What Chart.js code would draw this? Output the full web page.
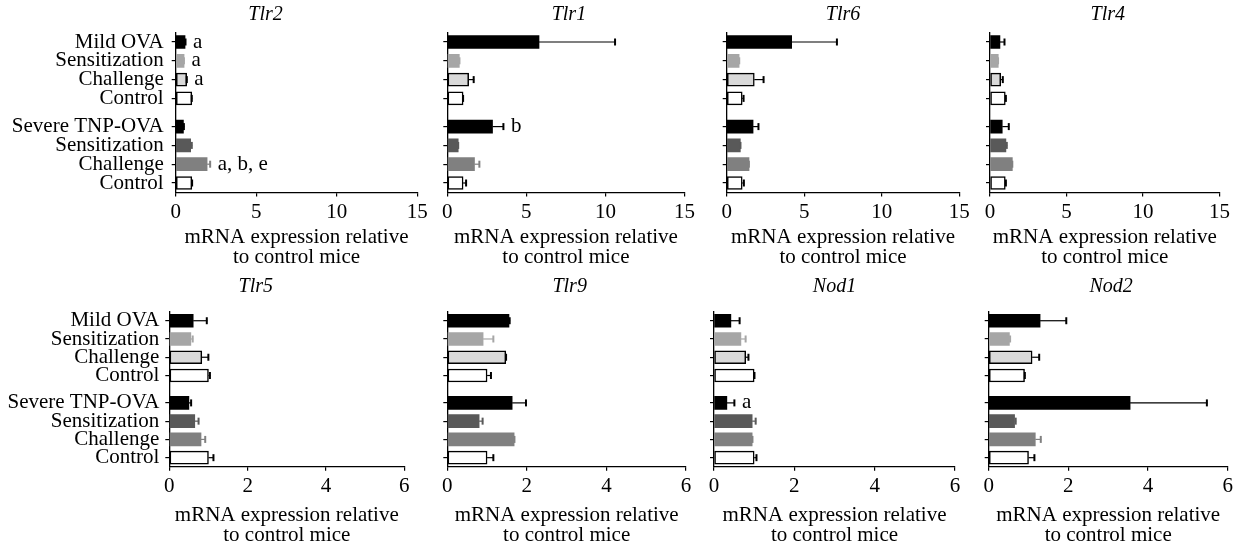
<!DOCTYPE html>
<html>
<head>
<meta charset="utf-8">
<script src="https://cdn.jsdelivr.net/npm/chart.js@4.4.1/dist/chart.umd.min.js"></script>
<style>
  html, body { margin: 0; padding: 0; background: #fff; width: 1242px; height: 550px; overflow: hidden; }
  canvas { position: absolute; }
</style>
</head>
<body>
<script>
// Groups shown on every panel (top to bottom)
const categories = ['Mild OVA', 'Sensitization', 'Challenge', 'Control',
                    'Severe TNP-OVA', 'Sensitization', 'Challenge', 'Control'];

// Mean relative mRNA expression and standard error, per gene
const tlr2    = [0.58, 0.52, 0.68, 1.00, 0.48, 0.93, 1.95, 1.00];
const tlr2Err = [0.06, 0.02, 0.04, 0.03, 0.06, 0.10, 0.22, 0.05];
const tlr1    = [5.80, 0.76, 1.35, 1.00, 2.86, 0.69, 1.72, 1.00];
const tlr1Err = [4.84, 0.04, 0.35, 0.03, 0.72, 0.03, 0.34, 0.22];
const tlr6    = [4.19, 0.80, 1.78, 1.00, 1.70, 0.88, 1.44, 1.00];
const tlr6Err = [2.95, 0.04, 0.63, 0.12, 0.38, 0.04, 0.02, 0.14];
const tlr4    = [0.65, 0.54, 0.70, 1.00, 0.80, 1.04, 1.46, 1.00];
const tlr4Err = [0.33, 0.02, 0.17, 0.07, 0.46, 0.09, 0.03, 0.07];
const tlr5    = [0.61, 0.55, 0.83, 1.00, 0.50, 0.65, 0.81, 1.00];
const tlr5Err = [0.36, 0.06, 0.18, 0.05, 0.07, 0.11, 0.12, 0.14];
const tlr9    = [1.55, 0.90, 1.47, 1.00, 1.63, 0.80, 1.68, 1.00];
const tlr9Err = [0.03, 0.27, 0.02, 0.11, 0.36, 0.10, 0.02, 0.17];
const nod1    = [0.42, 0.67, 0.79, 1.00, 0.32, 0.95, 0.95, 1.00];
const nod1Err = [0.23, 0.13, 0.08, 0.02, 0.20, 0.10, 0.02, 0.07];
const nod2    = [1.29, 0.52, 1.09, 0.90, 3.55, 0.65, 1.17, 1.00];
const nod2Err = [0.67, 0.03, 0.19, 0.02, 1.94, 0.04, 0.15, 0.16];

// Significance letters
const tlr2Notes = ['a', 'a', 'a', '', '', '', 'a, b, e', ''];
const tlr1Notes = ['', '', '', '', 'b', '', '', ''];
const noNotes   = ['', '', '', '', '', '', '', ''];
const nod1Notes = ['', '', '', '', 'a', '', '', ''];

// Value axis ticks
const ticksTop    = [0, 5, 10, 15];
const ticksBottom = [0, 2, 4, 6];

const axisTitle = ['mRNA expression relative', 'to control mice'];

// ---- styling ----
const FONT = '"Liberation Serif", "Times New Roman", serif';
const fills   = ['#000000', '#a6a6a6', '#d9d9d9', '#ffffff', '#000000', '#595959', '#808080', '#ffffff'];
const edges   = ['#000000', '#a6a6a6', '#000000', '#000000', '#000000', '#595959', '#808080', '#000000'];
const edgeW   = [0, 0, 1.5, 1.5, 0, 0, 0, 1.5];
const whiskerColors = ['#000000', '#a6a6a6', '#000000', '#000000', '#000000', '#595959', '#808080', '#000000'];

// second group sits half a row lower than the first
const rowPos = i => i + (i >= 4 ? 0.5 : 0);

const rows = [
  { top: 0,   plotTop: 32.6,  plotBottom: 192.4, titleY: 15,   tickPad: 3,   scaleH: 75,   labelPad: 8, ticks: ticksTop },
  { top: 270, plotTop: 311.6, plotBottom: 466.8, titleY: 286.7, tickPad: 3.5, scaleH: 78.3, labelPad: 6, ticks: ticksBottom }
];

const panels = [
  { name: 'Tlr2', mean: tlr2, err: tlr2Err, notes: tlr2Notes, row: 0, col: 0, left: 175.7, right: 417.3 },
  { name: 'Tlr1', mean: tlr1, err: tlr1Err, notes: tlr1Notes, row: 0, col: 1, left: 447.3, right: 685 },
  { name: 'Tlr6', mean: tlr6, err: tlr6Err, notes: noNotes,   row: 0, col: 2, left: 726.7, right: 959.3 },
  { name: 'Tlr4', mean: tlr4, err: tlr4Err, notes: noNotes,   row: 0, col: 3, left: 990,   right: 1220 },
  { name: 'Tlr5', mean: tlr5, err: tlr5Err, notes: noNotes,   row: 1, col: 0, left: 169.3, right: 404.3 },
  { name: 'Tlr9', mean: tlr9, err: tlr9Err, notes: noNotes,   row: 1, col: 1, left: 447.3, right: 686 },
  { name: 'Nod1', mean: nod1, err: nod1Err, notes: nod1Notes, row: 1, col: 2, left: 714,   right: 955 },
  { name: 'Nod2', mean: nod2, err: nod2Err, notes: noNotes,   row: 1, col: 3, left: 988.7, right: 1227.7 }
];
const titleShift = [-31, 3, 0, 3];

// italic gene name above each panel
const panelTitle = {
  id: 'panelTitle',
  afterDraw(chart, args, opts) {
    const { ctx, chartArea } = chart;
    ctx.save();
    ctx.font = 'italic 20px ' + FONT;
    ctx.fillStyle = '#000';
    ctx.textAlign = 'center';
    ctx.textBaseline = 'middle';
    ctx.fillText(opts.text, (chartArea.left + chartArea.right) / 2 + opts.dx, opts.y);
    ctx.restore();
  }
};

// one-sided error bars plus significance letters
const whiskers = {
  id: 'whiskers',
  afterDatasetsDraw(chart, args, opts) {
    const { ctx } = chart;
    const xs = chart.scales.x;
    const meta = chart.getDatasetMeta(0);
    ctx.save();
    meta.data.forEach((bar, i) => {
      const end = xs.getPixelForValue(opts.mean[i] + opts.err[i]);
      const y = bar.y;
      ctx.strokeStyle = whiskerColors[i];
      ctx.lineWidth = 1.2;
      ctx.beginPath();
      ctx.moveTo(bar.x, y);
      ctx.lineTo(end, y);
      ctx.stroke();
      ctx.lineWidth = 2;
      ctx.beginPath();
      ctx.moveTo(end - 0.5, y - 3.5);
      ctx.lineTo(end - 0.5, y + 3.5);
      ctx.stroke();
      const note = opts.notes[i];
      if (note) {
        ctx.fillStyle = '#000';
        ctx.font = '21px ' + FONT;
        ctx.textAlign = 'left';
        ctx.textBaseline = 'middle';
        ctx.fillText(note, end + 7, y);
      }
    });
    ctx.restore();
  }
};

panels.forEach(p => {
  const r = rows[p.row];
  const showLabels = p.col === 0;
  const canvasLeft = showLabels ? 0 : Math.floor(p.left - 12);
  const canvasWidth = Math.ceil(p.right + 13) - canvasLeft;
  const canvasHeight = Math.ceil(r.plotBottom + r.scaleH - r.top);
  const yWidth = p.left - canvasLeft;
  const padRight = canvasLeft + canvasWidth - p.right;
  const padTop = r.plotTop - r.top;
  const padBottom = canvasHeight - (r.plotBottom - r.top) - r.scaleH;

  const canvas = document.createElement('canvas');
  canvas.width = canvasWidth;
  canvas.height = canvasHeight;
  canvas.style.left = canvasLeft + 'px';
  canvas.style.top = r.top + 'px';
  canvas.style.width = canvasWidth + 'px';
  canvas.style.height = canvasHeight + 'px';
  document.body.appendChild(canvas);

  const tickList = r.ticks;

  new Chart(canvas, {
    type: 'bar',
    data: {
      datasets: [{
        data: p.mean.map((v, i) => ({ x: v, y: rowPos(i) })),
        backgroundColor: fills,
        borderColor: edges,
        borderWidth: edgeW,
        borderSkipped: false,
        barThickness: 13
      }]
    },
    options: {
      indexAxis: 'y',
      responsive: false,
      animation: false,
      devicePixelRatio: 1,
      layout: { padding: { left: 0, top: padTop, right: padRight, bottom: padBottom } },
      plugins: {
        legend: { display: false },
        tooltip: { enabled: false },
        title: { display: false },
        panelTitle: { text: p.name, dx: titleShift[p.col], y: r.titleY - r.top },
        whiskers: { mean: p.mean, err: p.err, notes: p.notes }
      },
      scales: {
        x: {
          type: 'linear',
          position: 'bottom',
          min: tickList[0],
          max: tickList[tickList.length - 1],
          afterBuildTicks: s => { s.ticks = tickList.map(v => ({ value: v })); },
          ticks: {
            autoSkip: false, maxRotation: 0, color: '#000', padding: r.tickPad,
            font: { family: FONT, size: 21 }
          },
          grid: { display: true, drawOnChartArea: false, drawTicks: true, tickLength: 4, color: '#000', lineWidth: 1.2 },
          border: { display: true, color: '#000', width: 1.3 },
          title: {
            display: true, text: axisTitle, color: '#000', padding: 0,
            font: { family: FONT, size: 21, lineHeight: '20px' }
          },
          afterFit: s => { s.height = r.scaleH; }
        },
        y: {
          type: 'linear',
          reverse: true,
          min: -0.5,
          max: 8,
          offset: false,
          afterBuildTicks: s => { s.ticks = categories.map((c, i) => ({ value: rowPos(i) })); },
          ticks: {
            display: showLabels, autoSkip: false, color: '#000', padding: r.labelPad,
            font: { family: FONT, size: 21 },
            callback: v => {
              const i = categories.findIndex((c, k) => rowPos(k) === v);
              return i >= 0 ? categories[i] : '';
            }
          },
          grid: { display: true, offset: false, drawOnChartArea: false, drawTicks: true, tickLength: 4, color: '#000', lineWidth: 1.2 },
          border: { display: true, color: '#000', width: 1.3 },
          afterFit: s => { s.width = yWidth; }
        }
      }
    },
    plugins: [panelTitle, whiskers]
  });
});
</script>
</body>
</html>
